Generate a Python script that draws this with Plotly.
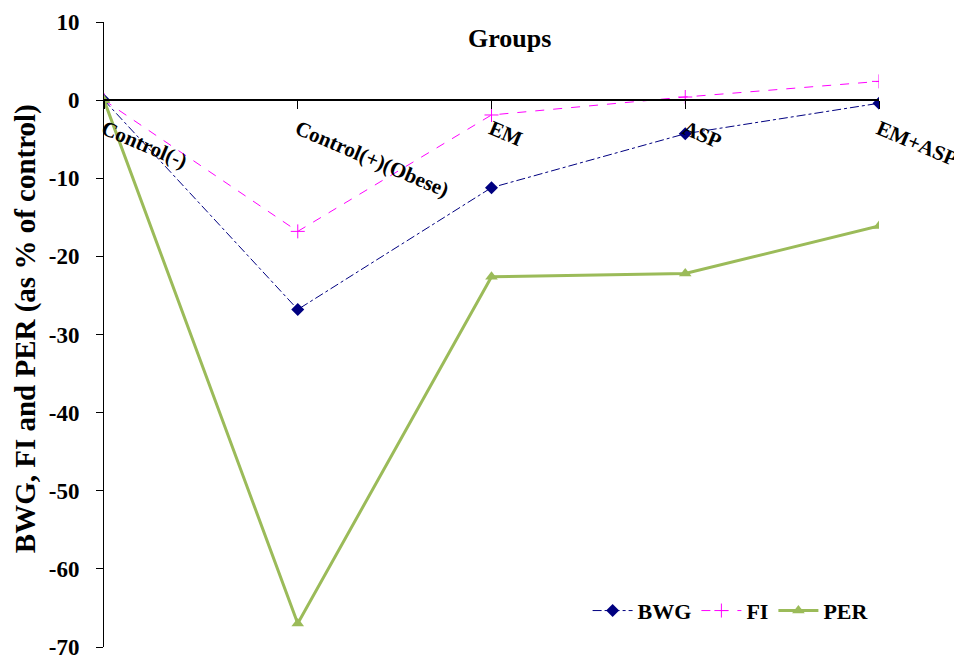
import plotly.graph_objects as go

groups = ["Control(-)", "Control(+)(Obese)", "EM", "ASP", "EM+ASP"]
bwg = [0, -26.8, -11.2, -4.3, -0.4]
fi = [0, -16.8, -1.9, 0.4, 2.4]
per = [0, -67.0, -22.6, -22.2, -16.1]
y_ticks = [10, 0, -10, -20, -30, -40, -50, -60, -70]

FONT = "Liberation Serif"

fig = go.Figure()
fig.add_trace(go.Scatter(
    x=groups, y=bwg, name="BWG", mode="lines+markers",
    line=dict(color="#000080", width=1, dash="dashdot"),
    marker=dict(symbol="diamond", size=10, color="#000080"),
))
fig.add_trace(go.Scatter(
    x=groups, y=fi, name="FI", mode="lines+markers",
    line=dict(color="#FF00FF", width=1, dash="dash"),
    marker=dict(symbol="cross-thin", size=10, line=dict(color="#FF00FF", width=1)),
))
fig.add_trace(go.Scatter(
    x=groups, y=per, name="PER", mode="lines+markers",
    line=dict(color="#9BBB59", width=3),
    marker=dict(symbol="triangle-up", size=11, color="#9BBB59"),
))

# page body has an 8px margin, so the figure is drawn 8px right/down
fig.update_layout(
    width=962, height=659,
    margin=dict(l=96, r=91, t=14, b=20),
    paper_bgcolor="white", plot_bgcolor="white",
    font=dict(family=FONT, color="black", size=21, weight="bold"),
    showlegend=True,
    legend=dict(orientation="h", x=0.624, y=0.058, xanchor="left", yanchor="middle",
                font=dict(family=FONT, size=22, weight="bold"), bgcolor="rgba(0,0,0,0)",
                itemwidth=40),
    xaxis=dict(
        type="category", range=[0, 4], anchor="free", position=70 / 80,
        showline=True, linecolor="black", linewidth=1.5,
        ticks="outside", ticklen=8, tickcolor="black",
        tickangle=23, showgrid=False, zeroline=False, automargin=False,
        ticklabeloverflow="allow",
        tickfont=dict(family=FONT, size=21, weight="bold"),
    ),
    yaxis=dict(
        range=[-70, 10], tickvals=y_ticks, ticktext=[str(v) for v in y_ticks],
        showline=True, linecolor="black", linewidth=1, automargin=False,
        ticks="outside", ticklen=7, tickcolor="black", showgrid=False, zeroline=False,
        ticklabelstandoff=12, ticklabeloverflow="allow",
        tickfont=dict(family=FONT, size=23, weight="bold"),
    ),
    annotations=[
        dict(text="Groups", xref="paper", yref="paper", x=0.5226, y=0.973,
             xanchor="center", yanchor="middle", showarrow=False,
             font=dict(family=FONT, size=26, weight="bold")),
        dict(text="BWG, FI and PER (as % of control)", xref="paper", yref="paper",
             x=-0.102, y=0.51, xanchor="center", yanchor="middle", textangle=-90,
             showarrow=False, font=dict(family=FONT, size=29, weight="bold")),
    ],
)

fig.write_html("out.html")
